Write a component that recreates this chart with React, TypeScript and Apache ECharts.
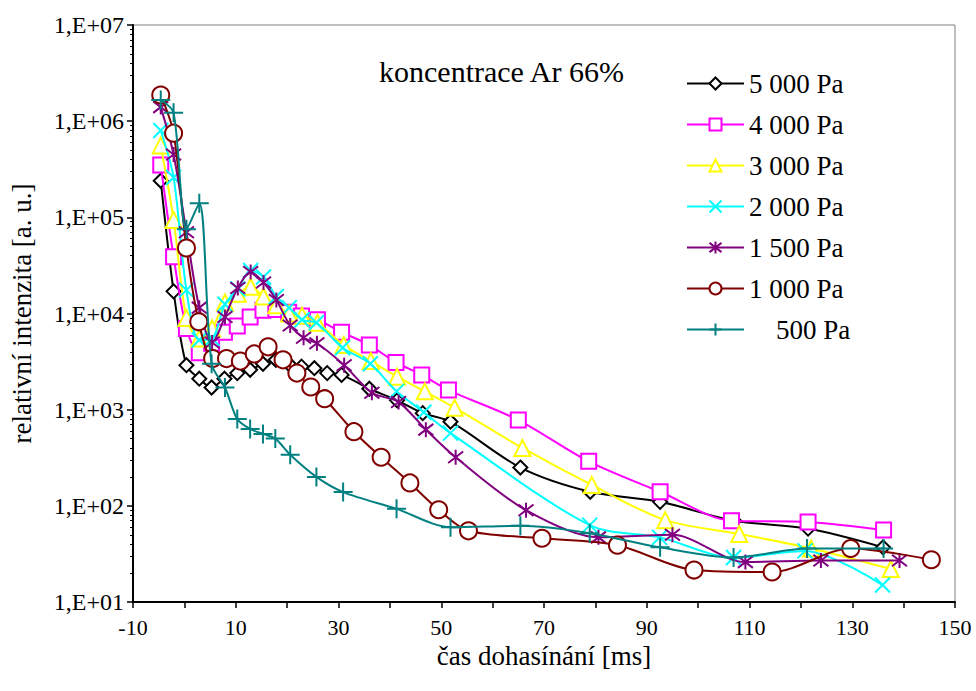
import React, { useEffect, useRef } from "react";
import * as echarts from "echarts";

const seriesNames = ["5 000 Pa", "4 000 Pa", "3 000 Pa", "2 000 Pa", "1 500 Pa", "1 000 Pa", "\u00A0\u00A0\u00A0\u00A0500 Pa"];
const seriesColors = ["#000000", "#FF00FF", "#FFFF00", "#00FFFF", "#800080", "#800000", "#008080"];

const x5000 = [-4.6, -2.1, 0.4, 2.9, 5.3, 7.8, 10.3, 12.8, 15.3, 17.8, 20.3, 22.8, 25.3, 27.8, 30.6, 36, 41.4, 46.4, 51.8, 65.4, 79, 92.6, 107, 121.4, 136];
const y5000 = [2.4e5, 1.7e4, 2.9e3, 2.1e3, 1.7e3, 2.1e3, 2.4e3, 2.6e3, 3.0e3, 3.3e3, 3.0e3, 2.8e3, 2.7e3, 2.4e3, 2.3e3, 1.65e3, 1.25e3, 920, 750, 250, 140, 110, 70, 58, 37];

const x4000 = [-4.6, -2.1, 0.4, 2.9, 5.3, 7.8, 10.3, 12.8, 15.3, 17.8, 20.3, 22.8, 25.9, 30.6, 36, 41.2, 46.2, 51.4, 65, 78.7, 92.6, 106.5, 121.4, 136.1];
const y4000 = [3.5e5, 3.9e4, 7e3, 3.9e3, 4.9e3, 6.4e3, 7.4e3, 9.2e3, 1.08e4, 1.1e4, 1.03e4, 9.4e3, 8.6e3, 6.4e3, 4.7e3, 3.1e3, 2.3e3, 1.6e3, 780, 290, 140, 70, 68, 56];

const x3000 = [-4.6, -2.1, 0.4, 2.9, 5.4, 7.9, 10.4, 12.9, 15.4, 17.9, 20.4, 22.9, 25.9, 31, 36.3, 41.4, 46.8, 52.6, 65.8, 79.3, 93.6, 108, 122, 137.5];
const y3000 = [5.6e5, 9.4e4, 9e3, 5.5e3, 7e3, 1.3e4, 1.6e4, 1.9e4, 1.5e4, 1.22e4, 1.0e4, 9.5e3, 8e3, 4.7e3, 3.2e3, 2.2e3, 1.55e3, 1.05e3, 400, 165, 71, 51, 36, 22];

const x2000 = [-4.6, -2.1, 0.4, 2.9, 5.4, 7.9, 10.4, 12.9, 15.4, 17.9, 20.4, 22.9, 25.7, 30.8, 36.2, 41.3, 46.6, 51.8, 78.9, 92.5, 106.9, 120.8, 135.9];
const y2000 = [8e5, 2.6e5, 1.75e4, 5.3e3, 5.5e3, 1.25e4, 1.8e4, 2.8e4, 2.4e4, 1.5e4, 1.15e4, 8.6e3, 8e3, 4.4e3, 3e3, 1.55e3, 940, 570, 63, 47, 29, 34, 15];

const x1500 = [-4.6, -2.1, 0.4, 2.9, 5.4, 7.9, 10.4, 12.9, 15.4, 17.9, 20.6, 23.2, 25.8, 31.1, 36.5, 41.7, 47, 52.8, 66.5, 80.6, 95, 109.2, 123.9, 139.2];
const y1500 = [1.4e6, 4.5e5, 7e4, 1.15e4, 5e3, 9.2e3, 1.84e4, 2.7e4, 2.1e4, 1.38e4, 7.5e3, 5.6e3, 4.9e3, 2.9e3, 1.5e3, 1.2e3, 620, 320, 90, 47, 50, 26, 27, 27];

const x1000 = [-4.6, -2.1, 0.4, 2.8, 5.5, 8.2, 10.9, 13.6, 16.3, 19.2, 21.9, 24.6, 27.3, 33, 38.3, 43.9, 49.5, 55.3, 69.6, 84.3, 99.2, 114.4, 129.7, 145.4];
const y1000 = [1.87e6, 7.5e5, 4.8e4, 8.2e3, 3.4e3, 3.4e3, 3.2e3, 3.8e3, 4.5e3, 3.3e3, 2.4e3, 1.72e3, 1.3e3, 590, 320, 173, 91, 55, 46, 39, 21.5, 20.5, 36, 27.5];

const x500 = [-4.6, -2.1, 0.4, 2.9, 5.3, 7.9, 10.3, 12.8, 15.3, 17.7, 20.6, 25.7, 30.9, 41.3, 51.8, 65.4, 78.9, 92.6, 106.9, 121.2, 136.1];
const y500 = [1.66e6, 1.22e6, 7.5e4, 1.4e5, 3.0e3, 1.7e3, 800, 630, 560, 500, 340, 200, 139, 93, 60, 62, 52, 37, 29, 36, 36];

const xTickLabels = [-10, 10, 30, 50, 70, 90, 110, 130, 150];
const titleText = "koncentrace Ar 66%";
const xName = "čas dohasínání [ms]";
const yName = "relativní intenzita [a. u.]";

const allX = [x5000, x4000, x3000, x2000, x1500, x1000, x500];
const allY = [y5000, y4000, y3000, y2000, y1500, y1000, y500];

const symbols = [
  "diamond",
  "rect",
  "triangle",
  "path://M0,0L10,10M10,0L0,10",
  "path://M0,0L10,10M10,0L0,10M5,-1.5L5,11.5",
  "circle",
  "path://M5,0L5,10M0,5L10,5",
];
const symbolSizes = [14, 15, 16, 15, 15, 17, 19];

const FONT = "Liberation Serif";

export default function App() {
  const ref = useRef<HTMLDivElement>(null);
  useEffect(() => {
    if (!ref.current) return;
    const chart = echarts.init(ref.current, null, { renderer: "svg" });
    const series = seriesNames.map((name, i) => {
      const isPath = symbols[i].startsWith("path://");
      return {
        name,
        type: "line",
        data: allX[i].map((x, k) => [x, allY[i][k]]),
        smooth: 0.3,
        symbol: symbols[i],
        symbolSize: symbolSizes[i],
        showAllSymbol: true,
        lineStyle: { color: seriesColors[i], width: 2 },
        itemStyle: {
          color: isPath ? seriesColors[i] : "#ffffff",
          borderColor: seriesColors[i],
          borderWidth: 2,
        },
        emphasis: { disabled: true },
        z: 2 + i,
      };
    });
    chart.setOption({
      animation: false,
      backgroundColor: "#ffffff",
      textStyle: { fontFamily: FONT },
      title: {
        text: titleText,
        left: 379,
        top: 56,
        padding: 0,
        textStyle: { fontFamily: FONT, fontSize: 30, fontWeight: "normal", color: "#000" },
      },
      legend: {
        orient: "vertical",
        left: 686,
        top: 70,
        padding: 0,
        itemWidth: 57,
        itemHeight: 15,
        itemGap: 14,
        textStyle: { fontFamily: FONT, fontSize: 27, color: "#000", lineHeight: 22 },
        data: seriesNames,
      },
      grid: {
        left: 127,
        right: 21,
        top: 25,
        bottom: 89,
        show: true,
        borderColor: "#808080",
        borderWidth: 1,
        backgroundColor: "transparent",
      },
      xAxis: {
        type: "value",
        min: -10,
        max: 150,
        interval: 10,
        name: xName,
        nameLocation: "middle",
        nameGap: 38,
        nameTextStyle: { fontFamily: FONT, fontSize: 27, color: "#000" },
        axisLine: { show: true, onZero: false, lineStyle: { color: "#000", width: 2 } },
        axisTick: { show: true, length: 6, lineStyle: { color: "#000", width: 1.5 } },
        axisLabel: {
          fontFamily: FONT,
          fontSize: 22,
          color: "#000",
          margin: 14,
          formatter: (v: number) => (xTickLabels.includes(v) ? String(v) : ""),
        },
        splitLine: { show: false },
      },
      yAxis: {
        type: "log",
        logBase: 10,
        min: 10,
        max: 1e7,
        name: yName,
        nameLocation: "middle",
        nameGap: 98,
        nameRotate: 90,
        nameTextStyle: { fontFamily: FONT, fontSize: 27, color: "#000" },
        axisLine: { show: true, onZero: false, lineStyle: { color: "#000", width: 2 } },
        axisTick: { show: true, length: 6, lineStyle: { color: "#000", width: 1.5 } },
        minorTick: { show: true, splitNumber: 9, length: 3, lineStyle: { color: "#000", width: 1 } },
        axisLabel: {
          fontFamily: FONT,
          fontSize: 24,
          color: "#000",
          margin: 9,
          formatter: (v: number) => {
            const e = Math.round(Math.log10(v));
            return "1,E+" + (e < 10 ? "0" + e : String(e));
          },
        },
        splitLine: { show: false },
      },
      series,
    });
    return () => chart.dispose();
  }, []);
  return <div ref={ref} style={{ position: "absolute", left: 0, top: 0, width: 976, height: 691 }} />;
}
